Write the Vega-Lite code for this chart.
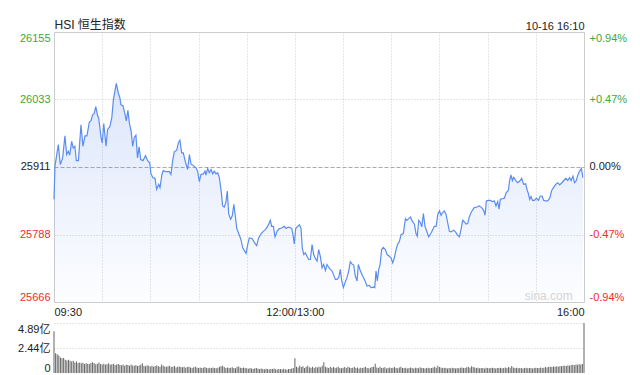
{
"$schema": "https://vega.github.io/schema/vega-lite/v6.json",
"background": "white",
"padding": {"left": 17, "top": 17, "right": 0, "bottom": 0},
"spacing": 5,
"config": {
  "font": "Liberation Sans, 'Noto Sans CJK SC', sans-serif",
  "view": {"stroke": null},
  "axis": {"labelFont": "Liberation Sans, 'Noto Sans CJK SC', sans-serif", "labelFontSize": 11, "ticks": false, "domain": false, "labelColor": "#333333", "gridColor": "#cccccc", "gridDash": [1, 2], "labelOverlap": false}
},
"datasets": {
"price": [
{"t":0,"p":25852},{"t":0.6,"p":25912},{"t":2.7,"p":25951},{"t":3.9,"p":25915},{"t":5.4,"p":25927},{"t":6.8,"p":25967},{"t":7.9,"p":25933},{"t":8.9,"p":25939},{"t":9.8,"p":25932},{"t":11,"p":25957},{"t":12,"p":25945},{"t":13,"p":25948},{"t":13.9,"p":25922},{"t":15.2,"p":25922},{"t":16.8,"p":25987},{"t":18,"p":25948},{"t":19.3,"p":25967},{"t":20.5,"p":25967},{"t":22,"p":25992},{"t":23,"p":25994},{"t":24,"p":26005},{"t":25,"p":26007},{"t":26,"p":26020},{"t":27.2,"p":26003},{"t":27.8,"p":26000},{"t":29.3,"p":25964},{"t":30,"p":25954},{"t":31,"p":25989},{"t":32.4,"p":25948},{"t":33.4,"p":25979},{"t":34.7,"p":25983},{"t":36,"p":26000},{"t":37,"p":26033},{"t":38.8,"p":26062},{"t":40,"p":26045},{"t":41,"p":26036},{"t":41.7,"p":26023},{"t":43,"p":26021},{"t":44.4,"p":26003},{"t":45,"p":25994},{"t":46,"p":26013},{"t":47,"p":25989},{"t":48,"p":25976},{"t":49,"p":25948},{"t":50,"p":25964},{"t":51,"p":25968},{"t":52,"p":25927},{"t":53,"p":25947},{"t":54,"p":25924},{"t":55.4,"p":25922},{"t":57,"p":25931},{"t":58.3,"p":25922},{"t":59.6,"p":25918},{"t":60.4,"p":25898},{"t":61.6,"p":25891},{"t":62.9,"p":25890},{"t":63.9,"p":25870},{"t":65.2,"p":25879},{"t":66,"p":25873},{"t":67.2,"p":25897},{"t":68,"p":25904},{"t":69.7,"p":25902},{"t":71.8,"p":25902},{"t":72.8,"p":25897},{"t":73.9,"p":25922},{"t":74.9,"p":25938},{"t":76.4,"p":25941},{"t":77.4,"p":25954},{"t":78.4,"p":25959},{"t":79.5,"p":25936},{"t":80.5,"p":25936},{"t":81.8,"p":25920},{"t":83.2,"p":25906},{"t":84.3,"p":25933},{"t":85.3,"p":25916},{"t":86.8,"p":25913},{"t":88.4,"p":25909},{"t":89.4,"p":25903},{"t":90.5,"p":25884},{"t":91.5,"p":25897},{"t":93,"p":25898},{"t":94,"p":25903},{"t":94.6,"p":25896},{"t":95.7,"p":25908},{"t":96.7,"p":25900},{"t":97.8,"p":25906},{"t":98.8,"p":25898},{"t":99.8,"p":25903},{"t":100.9,"p":25898},{"t":101.9,"p":25900},{"t":103,"p":25891},{"t":104.2,"p":25864},{"t":105,"p":25840},{"t":106,"p":25838},{"t":107,"p":25846},{"t":107.9,"p":25867},{"t":108.8,"p":25825},{"t":110,"p":25816},{"t":111,"p":25822},{"t":112,"p":25843},{"t":113,"p":25819},{"t":113.8,"p":25799},{"t":115,"p":25790},{"t":116.4,"p":25779},{"t":117.5,"p":25764},{"t":118.5,"p":25759},{"t":119.6,"p":25754},{"t":120.6,"p":25770},{"t":121.6,"p":25782},{"t":123.3,"p":25781},{"t":124.7,"p":25774},{"t":126.2,"p":25768},{"t":127.4,"p":25782},{"t":129,"p":25790},{"t":130.3,"p":25794},{"t":131.6,"p":25797},{"t":133,"p":25803},{"t":134,"p":25809},{"t":134.7,"p":25814},{"t":135.5,"p":25803},{"t":136.6,"p":25803},{"t":137.6,"p":25784},{"t":138.9,"p":25794},{"t":140.3,"p":25799},{"t":141.8,"p":25800},{"t":143.4,"p":25803},{"t":144.5,"p":25799},{"t":145.5,"p":25801},{"t":146.7,"p":25801},{"t":148,"p":25799},{"t":148.8,"p":25788},{"t":149.6,"p":25771},{"t":150.5,"p":25799},{"t":151.7,"p":25803},{"t":152.8,"p":25806},{"t":153.8,"p":25799},{"t":154.6,"p":25764},{"t":155.5,"p":25752},{"t":156.5,"p":25755},{"t":157.5,"p":25749},{"t":158.6,"p":25743},{"t":159.6,"p":25743},{"t":160.7,"p":25770},{"t":161.7,"p":25752},{"t":162.7,"p":25745},{"t":163.8,"p":25740},{"t":164.8,"p":25761},{"t":165.8,"p":25749},{"t":166.9,"p":25728},{"t":167.9,"p":25734},{"t":169,"p":25723},{"t":170,"p":25734},{"t":171,"p":25729},{"t":172,"p":25725},{"t":173,"p":25723},{"t":174,"p":25716},{"t":175.2,"p":25707},{"t":176.2,"p":25707},{"t":177.3,"p":25711},{"t":178.3,"p":25725},{"t":179.1,"p":25705},{"t":180.2,"p":25692},{"t":181.2,"p":25701},{"t":182.5,"p":25711},{"t":183.5,"p":25722},{"t":184.5,"p":25739},{"t":185.5,"p":25735},{"t":186.6,"p":25733},{"t":187.6,"p":25713},{"t":188.7,"p":25704},{"t":189.5,"p":25734},{"t":190.8,"p":25722},{"t":192.2,"p":25713},{"t":193.6,"p":25705},{"t":194.9,"p":25695},{"t":196.3,"p":25696},{"t":197.4,"p":25692},{"t":198.8,"p":25693},{"t":199.7,"p":25692},{"t":200.5,"p":25722},{"t":201.3,"p":25704},{"t":202.2,"p":25725},{"t":203,"p":25733},{"t":204,"p":25761},{"t":205.1,"p":25765},{"t":206.3,"p":25761},{"t":207.4,"p":25752},{"t":208.8,"p":25749},{"t":209.8,"p":25746},{"t":210.9,"p":25737},{"t":211.9,"p":25746},{"t":213,"p":25761},{"t":214,"p":25771},{"t":215,"p":25775},{"t":216.1,"p":25788},{"t":217.5,"p":25790},{"t":218.8,"p":25817},{"t":219.6,"p":25814},{"t":220.9,"p":25817},{"t":221.9,"p":25820},{"t":223,"p":25813},{"t":224.4,"p":25807},{"t":225.4,"p":25790},{"t":226.2,"p":25785},{"t":227.1,"p":25814},{"t":228.1,"p":25810},{"t":229,"p":25802},{"t":230,"p":25826},{"t":231,"p":25803},{"t":232.1,"p":25794},{"t":233.3,"p":25784},{"t":234.6,"p":25790},{"t":235.8,"p":25797},{"t":236.8,"p":25803},{"t":237.9,"p":25803},{"t":239,"p":25825},{"t":240,"p":25831},{"t":241,"p":25823},{"t":242,"p":25828},{"t":243,"p":25831},{"t":244.1,"p":25825},{"t":245.1,"p":25810},{"t":246.2,"p":25794},{"t":247.2,"p":25793},{"t":248.7,"p":25796},{"t":250,"p":25793},{"t":251,"p":25788},{"t":252.4,"p":25784},{"t":253.4,"p":25797},{"t":254.5,"p":25814},{"t":255.5,"p":25811},{"t":256.6,"p":25807},{"t":257.6,"p":25808},{"t":258.6,"p":25820},{"t":259.7,"p":25828},{"t":260.7,"p":25833},{"t":261.7,"p":25837},{"t":263.4,"p":25838},{"t":264.8,"p":25840},{"t":266.3,"p":25837},{"t":267.5,"p":25832},{"t":268.4,"p":25823},{"t":269.2,"p":25849},{"t":270.4,"p":25850},{"t":271.7,"p":25850},{"t":272.9,"p":25848},{"t":274.2,"p":25849},{"t":275.2,"p":25840},{"t":276.3,"p":25848},{"t":277.1,"p":25834},{"t":277.9,"p":25852},{"t":279.2,"p":25853},{"t":280.4,"p":25854},{"t":281.6,"p":25864},{"t":282.9,"p":25868},{"t":283.7,"p":25886},{"t":284.5,"p":25896},{"t":285.4,"p":25886},{"t":286.2,"p":25892},{"t":287.5,"p":25886},{"t":288.7,"p":25882},{"t":290,"p":25885},{"t":291.2,"p":25890},{"t":292.4,"p":25879},{"t":293.7,"p":25880},{"t":294.5,"p":25870},{"t":295.4,"p":25862},{"t":296.2,"p":25852},{"t":297,"p":25857},{"t":297.9,"p":25850},{"t":299.1,"p":25850},{"t":300.4,"p":25854},{"t":301.6,"p":25850},{"t":302.8,"p":25858},{"t":303.9,"p":25858},{"t":304.9,"p":25850},{"t":306.2,"p":25849},{"t":307.4,"p":25849},{"t":308.7,"p":25854},{"t":309.9,"p":25868},{"t":311.2,"p":25874},{"t":312.4,"p":25879},{"t":313.7,"p":25882},{"t":314.9,"p":25878},{"t":316.2,"p":25882},{"t":317.4,"p":25886},{"t":318.7,"p":25890},{"t":319.9,"p":25886},{"t":321,"p":25891},{"t":322,"p":25886},{"t":323.1,"p":25894},{"t":324.1,"p":25882},{"t":325.2,"p":25886},{"t":326.3,"p":25897},{"t":327.3,"p":25903},{"t":328.4,"p":25908},{"t":329.3,"p":25891}
],
"vol": [
{"t":0,"v":4.08},{"t":1,"v":1.93},{"t":2,"v":1.83},{"t":3,"v":1.71},{"t":4,"v":1.51},{"t":5,"v":1.45},{"t":6,"v":1.47},{"t":7,"v":1.29},{"t":8,"v":1.22},{"t":9,"v":1.29},{"t":10,"v":1.2},
{"t":11,"v":1.13},{"t":12,"v":1.2},{"t":13,"v":1.03},{"t":14,"v":1.12},{"t":15,"v":0.97},{"t":16,"v":1.03},{"t":17,"v":0.95},{"t":18,"v":1.0},{"t":19,"v":0.87},{"t":20,"v":0.96},
{"t":21,"v":0.9},{"t":22,"v":0.87},{"t":23,"v":0.97},{"t":24,"v":1.05},{"t":25,"v":0.97},{"t":26,"v":0.86},{"t":27,"v":0.9},{"t":28,"v":1.02},{"t":29,"v":0.87},{"t":30,"v":0.84},
{"t":31,"v":0.9},{"t":32,"v":0.82},{"t":33,"v":0.86},{"t":34,"v":0.95},{"t":35,"v":0.8},{"t":36,"v":0.85},{"t":37,"v":0.9},{"t":38,"v":0.78},{"t":39,"v":0.83},{"t":40,"v":0.88},
{"t":41,"v":0.8},{"t":42,"v":0.76},{"t":43,"v":0.84},{"t":44,"v":0.72},{"t":45,"v":0.8},{"t":46,"v":0.78},{"t":47,"v":0.7},{"t":48,"v":0.82},{"t":49,"v":0.74},{"t":50,"v":0.7},
{"t":51,"v":0.78},{"t":52,"v":0.68},{"t":53,"v":0.74},{"t":54,"v":0.8},{"t":55,"v":0.96},{"t":56,"v":0.7},{"t":57,"v":0.66},{"t":58,"v":0.75},{"t":59,"v":0.72},{"t":60,"v":0.64},
{"t":61,"v":0.7},{"t":62,"v":0.62},{"t":63,"v":0.68},{"t":64,"v":0.74},{"t":65,"v":0.66},{"t":66,"v":0.6},{"t":67,"v":0.84},{"t":68,"v":0.72},{"t":69,"v":0.64},{"t":70,"v":0.6},
{"t":71,"v":0.66},{"t":72,"v":0.7},{"t":73,"v":0.58},{"t":74,"v":0.62},{"t":75,"v":0.68},{"t":76,"v":0.55},{"t":77,"v":0.6},{"t":78,"v":0.64},{"t":79,"v":0.58},{"t":80,"v":0.56},
{"t":81,"v":0.62},{"t":82,"v":0.52},{"t":83,"v":0.58},{"t":84,"v":0.6},{"t":85,"v":0.55},{"t":86,"v":0.5},{"t":87,"v":0.57},{"t":88,"v":0.62},{"t":89,"v":0.54},{"t":90,"v":0.5},
{"t":91,"v":0.55},{"t":92,"v":0.48},{"t":93,"v":0.52},{"t":94,"v":0.58},{"t":95,"v":0.5},{"t":96,"v":0.46},{"t":97,"v":0.52},{"t":98,"v":0.48},{"t":99,"v":0.55},{"t":100,"v":0.5},
{"t":101,"v":0.46},{"t":102,"v":0.52},{"t":103,"v":0.6},{"t":104,"v":0.66},{"t":105,"v":0.7},{"t":106,"v":0.58},{"t":107,"v":0.5},{"t":108,"v":0.54},{"t":109,"v":0.48},{"t":110,"v":0.52},
{"t":111,"v":0.56},{"t":112,"v":0.5},{"t":113,"v":0.46},{"t":114,"v":0.6},{"t":115,"v":0.64},{"t":116,"v":0.52},{"t":117,"v":0.48},{"t":118,"v":0.55},{"t":119,"v":0.5},{"t":120,"v":0.46},
{"t":121,"v":0.42},{"t":122,"v":0.48},{"t":123,"v":0.44},{"t":124,"v":0.4},{"t":125,"v":0.46},{"t":126,"v":0.5},{"t":127,"v":0.42},{"t":128,"v":0.38},{"t":129,"v":0.44},{"t":130,"v":0.4},
{"t":131,"v":0.36},{"t":132,"v":0.42},{"t":133,"v":0.4},{"t":134,"v":0.35},{"t":135,"v":0.4},{"t":136,"v":0.38},{"t":137,"v":0.44},{"t":138,"v":0.36},{"t":139,"v":0.34},{"t":140,"v":0.4},
{"t":141,"v":0.38},{"t":142,"v":0.35},{"t":143,"v":0.42},{"t":144,"v":0.36},{"t":145,"v":0.33},{"t":146,"v":0.38},{"t":147,"v":0.4},{"t":148,"v":0.44},{"t":149,"v":0.5},{"t":150,"v":1.45},
{"t":151,"v":0.62},{"t":152,"v":0.55},{"t":153,"v":0.7},{"t":154,"v":0.58},{"t":155,"v":0.66},{"t":156,"v":0.5},{"t":157,"v":0.6},{"t":158,"v":0.72},{"t":159,"v":0.56},{"t":160,"v":0.52},
{"t":161,"v":0.62},{"t":162,"v":0.5},{"t":163,"v":0.58},{"t":164,"v":0.54},{"t":165,"v":0.6},{"t":166,"v":0.56},{"t":167,"v":0.7},{"t":168,"v":1.06},{"t":169,"v":0.6},{"t":170,"v":0.55},
{"t":171,"v":0.5},{"t":172,"v":0.62},{"t":173,"v":0.52},{"t":174,"v":0.58},{"t":175,"v":0.48},{"t":176,"v":0.55},{"t":177,"v":0.62},{"t":178,"v":0.5},{"t":179,"v":0.46},{"t":180,"v":0.52},
{"t":181,"v":0.58},{"t":182,"v":0.5},{"t":183,"v":0.6},{"t":184,"v":0.55},{"t":185,"v":0.48},{"t":186,"v":0.52},{"t":187,"v":0.62},{"t":188,"v":0.5},{"t":189,"v":0.55},{"t":190,"v":0.45},
{"t":191,"v":0.52},{"t":192,"v":0.48},{"t":193,"v":0.55},{"t":194,"v":0.6},{"t":195,"v":0.5},{"t":196,"v":0.46},{"t":197,"v":0.52},{"t":198,"v":0.58},{"t":199,"v":0.62},{"t":200,"v":0.9},
{"t":201,"v":0.55},{"t":202,"v":0.5},{"t":203,"v":0.62},{"t":204,"v":0.48},{"t":205,"v":0.52},{"t":206,"v":0.56},{"t":207,"v":0.45},{"t":208,"v":0.5},{"t":209,"v":0.54},{"t":210,"v":0.48},
{"t":211,"v":0.52},{"t":212,"v":0.58},{"t":213,"v":0.5},{"t":214,"v":0.46},{"t":215,"v":0.55},{"t":216,"v":0.62},{"t":217,"v":0.5},{"t":218,"v":0.48},{"t":219,"v":0.52},{"t":220,"v":0.45},
{"t":221,"v":0.5},{"t":222,"v":0.55},{"t":223,"v":0.48},{"t":224,"v":0.45},{"t":225,"v":0.52},{"t":226,"v":0.5},{"t":227,"v":0.46},{"t":228,"v":0.56},{"t":229,"v":0.5},{"t":230,"v":0.48},
{"t":231,"v":0.45},{"t":232,"v":0.5},{"t":233,"v":0.52},{"t":234,"v":0.46},{"t":235,"v":0.5},{"t":236,"v":0.55},{"t":237,"v":0.6},{"t":238,"v":0.52},{"t":239,"v":0.7},{"t":240,"v":0.58},
{"t":241,"v":0.55},{"t":242,"v":0.5},{"t":243,"v":0.52},{"t":244,"v":0.48},{"t":245,"v":0.45},{"t":246,"v":0.5},{"t":247,"v":0.46},{"t":248,"v":0.52},{"t":249,"v":0.48},{"t":250,"v":0.44},
{"t":251,"v":0.5},{"t":252,"v":0.46},{"t":253,"v":0.52},{"t":254,"v":0.55},{"t":255,"v":0.5},{"t":256,"v":0.48},{"t":257,"v":0.56},{"t":258,"v":0.6},{"t":259,"v":0.52},{"t":260,"v":0.66},
{"t":261,"v":0.58},{"t":262,"v":0.55},{"t":263,"v":0.5},{"t":264,"v":0.52},{"t":265,"v":0.46},{"t":266,"v":0.5},{"t":267,"v":0.48},{"t":268,"v":0.45},{"t":269,"v":0.52},{"t":270,"v":0.5},
{"t":271,"v":0.46},{"t":272,"v":0.48},{"t":273,"v":0.52},{"t":274,"v":0.5},{"t":275,"v":0.45},{"t":276,"v":0.48},{"t":277,"v":0.5},{"t":278,"v":0.52},{"t":279,"v":0.46},{"t":280,"v":0.5},
{"t":281,"v":0.55},{"t":282,"v":0.5},{"t":283,"v":0.58},{"t":284,"v":0.52},{"t":285,"v":0.68},{"t":286,"v":0.55},{"t":287,"v":0.5},{"t":288,"v":0.52},{"t":289,"v":0.46},{"t":290,"v":0.48},
{"t":291,"v":0.5},{"t":292,"v":0.45},{"t":293,"v":0.48},{"t":294,"v":0.52},{"t":295,"v":0.46},{"t":296,"v":0.5},{"t":297,"v":0.48},{"t":298,"v":0.44},{"t":299,"v":0.5},{"t":300,"v":0.52},
{"t":301,"v":0.48},{"t":302,"v":0.5},{"t":303,"v":0.55},{"t":304,"v":0.5},{"t":305,"v":0.52},{"t":306,"v":0.58},{"t":307,"v":0.55},{"t":308,"v":0.6},{"t":309,"v":0.62},{"t":310,"v":0.58},
{"t":311,"v":0.64},{"t":312,"v":0.6},{"t":313,"v":0.66},{"t":314,"v":0.62},{"t":315,"v":0.68},{"t":316,"v":0.65},{"t":317,"v":0.7},{"t":318,"v":0.72},{"t":319,"v":0.68},{"t":320,"v":0.75},
{"t":321,"v":0.72},{"t":322,"v":0.78},{"t":323,"v":0.8},{"t":324,"v":0.76},{"t":325,"v":0.82},{"t":326,"v":0.8},{"t":327,"v":0.85},{"t":328,"v":0.82},{"t":329,"v":0.88},{"t":330,"v":4.89}
]
},
"vconcat": [
{
  "width": 530,
  "height": 270,
  "view": {"stroke": "#cccccc"},
  "layer": [
    {
      "data": {"name": "price"},
      "mark": {"type": "area", "line": false, "color": {"gradient": "linear", "x1": 0, "y1": 0, "x2": 0, "y2": 1, "stops": [{"offset": 0, "color": "rgba(80,130,235,0.2)"}, {"offset": 1, "color": "rgba(80,130,235,0.01)"}]}},
      "encoding": {
        "x": {"field": "t", "type": "quantitative", "scale": {"domain": [0, 330], "nice": false, "zero": false, "padding": 0},
          "axis": {"orient": "bottom", "title": null, "values": [0, 30, 60, 90, 120, 150, 180, 210, 240, 270, 300, 330], "labelExpr": "datum.value === 0 ? '09:30' : datum.value === 150 ? '12:00/13:00' : datum.value === 330 ? '16:00' : ''", "labelFlush": true, "grid": true, "labelPadding": 4, "labelColor": "#222222"}},
        "y": {"field": "p", "type": "quantitative", "scale": {"domain": [25666, 26155], "nice": false, "zero": false},
          "axis": {"orient": "left", "title": null, "values": [25666, 25788, 25911, 26033, 26155], "labelFlush": true, "labelPadding": 4, "grid": true, "format": "d",
            "gridDash": {"condition": {"test": "datum.value === 25911", "value": [4, 2]}, "value": [1, 2]},
            "gridColor": {"condition": {"test": "datum.value === 25911", "value": "#aaaaaa"}, "value": "#cccccc"},
            "labelColor": {"condition": [{"test": "datum.value > 25911", "value": "#3da934"}, {"test": "datum.value < 25911", "value": "#f02c2c"}], "value": "#222222"}}},
        "y2": {"datum": 25666}
      }
    },
    {
      "data": {"name": "price"},
      "mark": {"type": "line", "color": "#5b8def", "strokeWidth": 1.2},
      "encoding": {
        "x": {"field": "t", "type": "quantitative",
          "axis": {"orient": "top", "title": null, "values": [0, 330], "labelExpr": "datum.value === 0 ? 'HSI 恒生指数' : '10-16 16:10'", "labelFlush": true, "grid": false, "labelPadding": 1, "labelColor": "#222222",
            "labelFontSize": {"condition": {"test": "datum.value === 0", "value": 12}, "value": 11}}},
        "y": {"field": "p", "type": "quantitative",
          "axis": {"orient": "right", "title": null, "values": [25666, 25788, 25911, 26033, 26155], "labelFlush": true, "labelPadding": 5, "grid": false,
            "labelExpr": "datum.value === 26155 ? '+0.94%' : datum.value === 26033 ? '+0.47%' : datum.value === 25911 ? '0.00%' : datum.value === 25788 ? '-0.47%' : '-0.94%'",
            "labelColor": {"condition": [{"test": "datum.value > 25911", "value": "#3da934"}, {"test": "datum.value < 25911", "value": "#f02c2c"}], "value": "#222222"}}}
      }
    },
    {
      "data": {"values": [{"label": "sina.com"}]},
      "mark": {"type": "text", "align": "right", "baseline": "middle", "color": "#d4d4d4", "fontSize": 12},
      "encoding": {
        "text": {"field": "label"},
        "x": {"datum": 323, "type": "quantitative", "axis": null},
        "y": {"datum": 25677, "type": "quantitative", "axis": null}
      }
    }
  ],
  "resolve": {"axis": {"x": "independent", "y": "independent"}}
},
{
  "width": 530,
  "height": 50,
  "data": {"name": "vol"},
  "mark": {"type": "bar", "color": "#666666", "width": 1},
  "encoding": {
    "x": {"field": "t", "type": "quantitative", "scale": {"domain": [0, 330], "nice": false, "zero": false, "padding": 0}, "axis": null},
    "y": {"field": "v", "type": "quantitative", "scale": {"domain": [0, 4.89], "nice": false},
      "axis": {"title": null, "values": [0, 2.44, 4.89], "labelExpr": "datum.value === 0 ? '0' : format(datum.value, '.2f') + '亿'", "labelFlush": true, "grid": true, "gridDash": [1, 2], "labelPadding": 4, "labelColor": "#222222"}}
  }
}
]
}
